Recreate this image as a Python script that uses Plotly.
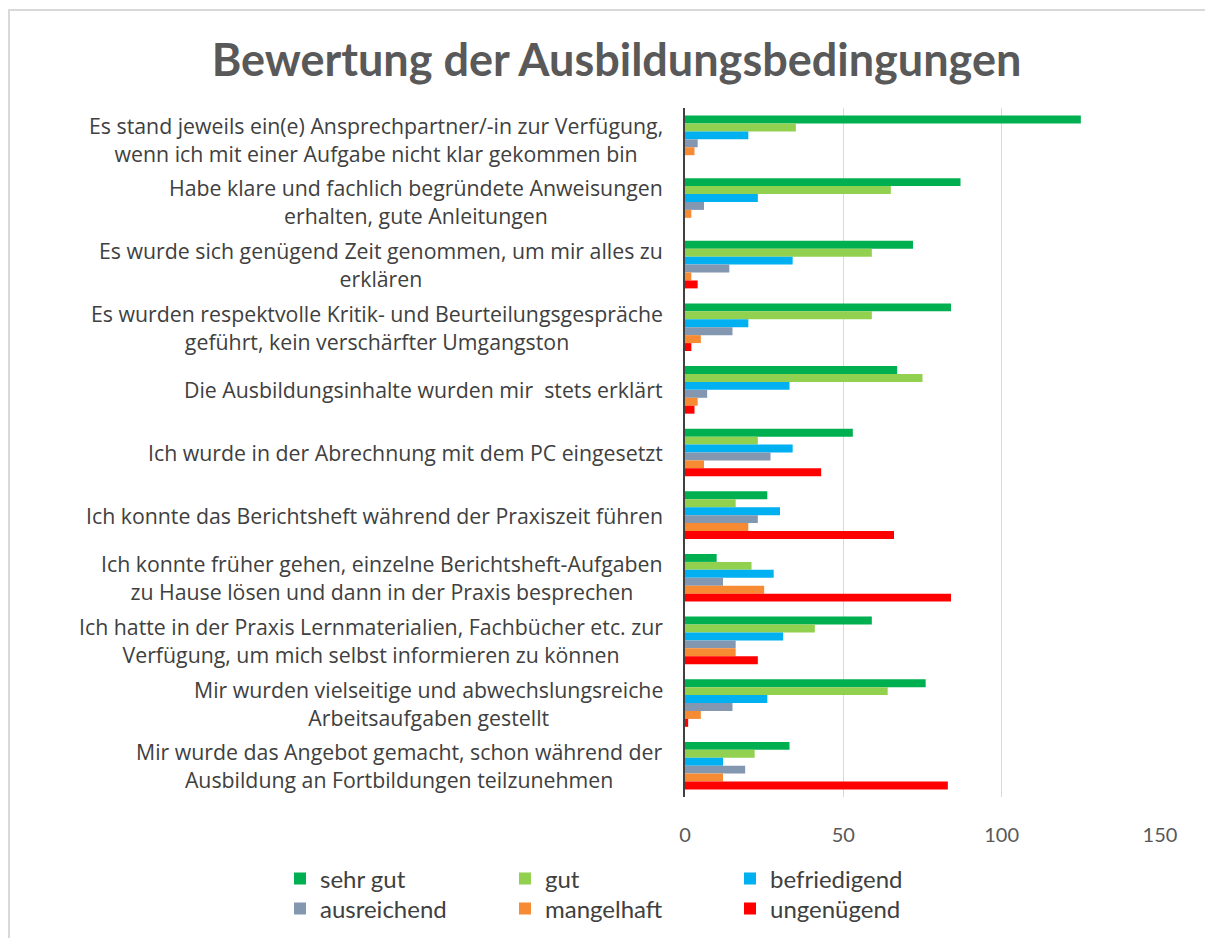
import plotly.graph_objects as go

FONT = "Lato"
LABEL_FONT = "Open Sans"

categories = [
    "Es stand jeweils ein(e) Ansprechpartner/-in zur Verfügung,<br>wenn ich mit einer Aufgabe nicht klar gekommen bin",
    "Habe klare und fachlich begründete Anweisungen<br>erhalten, gute Anleitungen",
    "Es wurde sich genügend Zeit genommen, um mir alles zu<br>erklären",
    "Es wurden respektvolle Kritik- und Beurteilungsgespräche<br>geführt, kein verschärfter Umgangston",
    "Die Ausbildungsinhalte wurden mir  stets erklärt",
    "Ich wurde in der Abrechnung mit dem PC eingesetzt",
    "Ich konnte das Berichtsheft während der Praxiszeit führen",
    "Ich konnte früher gehen, einzelne Berichtsheft-Aufgaben<br>zu Hause lösen und dann in der Praxis besprechen",
    "Ich hatte in der Praxis Lernmaterialien, Fachbücher etc. zur<br>Verfügung, um mich selbst informieren zu können",
    "Mir wurden vielseitige und abwechslungsreiche<br>Arbeitsaufgaben gestellt",
    "Mir wurde das Angebot gemacht, schon während der<br>Ausbildung an Fortbildungen teilzunehmen",
]

sehr_gut = [125, 87, 72, 84, 67, 53, 26, 10, 59, 76, 33]
gut = [35, 65, 59, 59, 75, 23, 16, 21, 41, 64, 22]
befriedigend = [20, 23, 34, 20, 33, 34, 30, 28, 31, 26, 12]
ausreichend = [4, 6, 14, 15, 7, 27, 23, 12, 16, 15, 19]
mangelhaft = [3, 2, 2, 5, 4, 6, 20, 25, 16, 5, 12]
ungenuegend = [0, 0, 4, 2, 3, 43, 66, 84, 23, 1, 83]

series = [
    ("sehr gut", sehr_gut, "#00B050", "legend"),
    ("gut", gut, "#92D050", "legend"),
    ("befriedigend", befriedigend, "#00B0F0", "legend"),
    ("ausreichend", ausreichend, "#8497B0", "legend2"),
    ("mangelhaft", mangelhaft, "#F68B33", "legend2"),
    ("ungenügend", ungenuegend, "#FF0000", "legend2"),
]

fig = go.Figure()
for name, vals, color, leg in series:
    fig.add_trace(go.Bar(
        name=name, x=vals, y=categories, orientation="h",
        marker=dict(color=color, line=dict(width=0)),
        legend=leg,
    ))

# category labels, centred lines like the original
for cat in categories:
    fig.add_annotation(
        x=-0.042, xref="paper", y=cat, yref="y",
        text=cat, showarrow=False, xanchor="right", align="center",
        font=dict(family=LABEL_FONT, size=21.3, color="#404040"),
    )

# outer chart border (page adds an 8px body margin)
fig.add_shape(type="rect", xref="paper", yref="paper",
              x0=(1 - 677) / 475, x1=3, y0=-1, y1=1 + (100 - 2) / 689,
              line=dict(color="#D9D9D9", width=2), fillcolor="rgba(0,0,0,0)")

legend_style = dict(
    orientation="h", xanchor="left", yanchor="middle",
    font=dict(family=FONT, size=24, color="#404040"),
    entrywidth=180, itemwidth=30, bgcolor="rgba(0,0,0,0)",
)
leg_x = (272 - 677) / 475

fig.update_layout(
    width=1205, height=930,
    margin=dict(l=677, r=53, t=100, b=141, autoexpand=False),
    paper_bgcolor="white", plot_bgcolor="white",
    title=dict(text="<b>Bewertung der Ausbildungsbedingungen</b>",
               x=0.505, xanchor="center", y=0.944, yanchor="middle",
               font=dict(family=FONT, size=45, color="#595959")),
    barmode="group", bargap=0.24, bargroupgap=0,
    xaxis=dict(range=[0, 150], tickvals=[0, 50, 100, 150],
               showgrid=True, gridcolor="#D9D9D9", gridwidth=1,
               zeroline=False, showline=False, ticklabelstandoff=24,
               tickfont=dict(family=FONT, size=20, color="#595959")),
    yaxis=dict(autorange="reversed", showticklabels=False, showgrid=False,
               showline=True, linecolor="#404040", linewidth=1.5),
    legend=dict(x=leg_x, y=(789 - 871) / 689, **legend_style),
    legend2=dict(x=leg_x, y=(789 - 901) / 689, **legend_style),
    showlegend=True,
)

fig.write_html("out.html")
